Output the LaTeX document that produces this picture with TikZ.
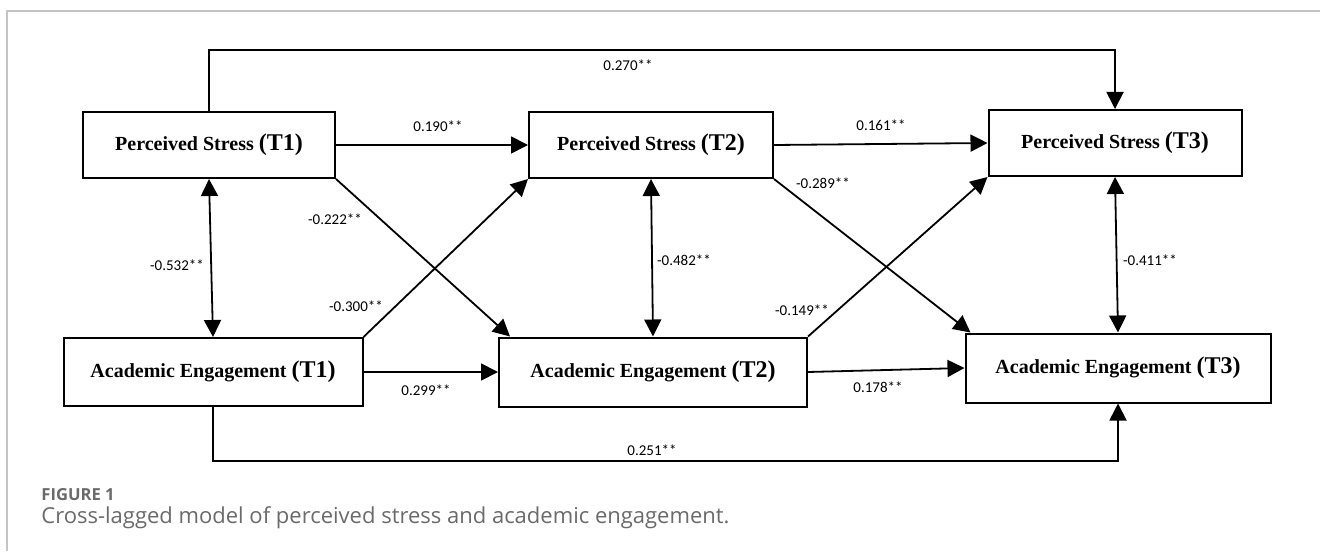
\documentclass[tikz,border=0pt]{standalone}
\usepackage{fontspec}
\setmainfont{Liberation Serif}
\newfontfamily\coeffont{Carlito}
\newfontfamily\capfont{Open Sans}
\usetikzlibrary{arrows.meta}
\definecolor{captiongray}{HTML}{6A6A6A}
\definecolor{framegray}{HTML}{C4C4C4}
\newcommand{\timept}[1]{{\fontsize{12}{12}\selectfont(#1)}}

\begin{document}
\begin{tikzpicture}[x=0.5pt, y=-0.5pt,
  varbox/.style={draw, line width=1pt, inner sep=0pt, minimum height=33pt,
    font=\fontsize{10}{12}\selectfont\bfseries},
  link/.style={line width=0.9pt, -{Triangle[length=8.5pt,width=8.5pt]}},
  corr/.style={line width=0.9pt, {Triangle[length=8.5pt,width=8.5pt]}-{Triangle[length=8.5pt,width=8.5pt]}},
  coef/.style={font=\coeffont\fontsize{7.5}{9}\selectfont, inner sep=0pt}]
\useasboundingbox (0,0) rectangle (1320,551);

% Frame
\draw[framegray, line width=0.6pt] (7,551) -- (7,11) -- (1320,11);

% Variables
\node[varbox, minimum width=126pt] (ps1) at (209,145) {Perceived Stress \timept{T1}};
\node[varbox, minimum width=122pt] (ps2) at (651,145) {Perceived Stress \timept{T2}};
\node[varbox, minimum width=126.5pt] (ps3) at (1115,143) {Perceived Stress \timept{T3}};
\node[varbox, minimum width=149.5pt, minimum height=34pt] (ae1) at (213,372) {Academic Engagement \timept{T1}};
\node[varbox, minimum width=154pt, minimum height=34.5pt] (ae2) at (653,372) {Academic Engagement \timept{T2}};
\node[varbox, minimum width=152.5pt, minimum height=34.5pt] (ae3) at (1118,368) {Academic Engagement \timept{T3}};

% Long paths
\coordinate (topline) at (0,50);
\coordinate (botline) at (0,461);
\draw[link] (ps1.north) -- (ps1.north |- topline) -| (ps3.north);
\draw[link] (ae1.south) -- (ae1.south |- botline) -| (ae3.south);

% Stability paths
\draw[link] (ps1.east) -- (ps2.west);
\draw[link] (ps2.east) -- (ps3.west);
\draw[link] (ae1.east) -- (ae2.west);
\draw[link] (ae2.east) -- (ae3.west);

% Cross-lagged paths
\draw[link] (ps1.south east) -- ([xshift=6pt]ae2.north west);
\draw[link] (ae1.north east) -- (ps2.south west);
\draw[link] (ps2.south east) -- ([xshift=3pt]ae3.north west);
\draw[link] (ae2.north east) -- (ps3.south west);

% Correlations
\draw[corr] (ps1.south) -- (ae1.north);
\draw[corr] (ps2.south) -- (ae2.north);
\draw[corr] (ps3.south) -- (ae3.north);

% Coefficients
\node[coef] (c270) at (628,65) {0.270**};
\node[coef] (c190) at (438,126) {0.190**};
\node[coef] (c161) at (881,125) {0.161**};
\node[coef] (c222) at (335,219) {-0.222**};
\node[coef] (c532) at (177,265) {-0.532**};
\node[coef] (c300) at (356,306) {-0.300**};
\node[coef] (c299) at (426,390) {0.299**};
\node[coef] (c482) at (684,260) {-0.482**};
\node[coef] (c289) at (823,183) {-0.289**};
\node[coef] (c149) at (802,310) {-0.149**};
\node[coef] (c178) at (878,387) {0.178**};
\node[coef] (c411) at (1150,260) {-0.411**};
\node[coef] (c251) at (652,450) {0.251**};

% Caption
\node[anchor=west, inner sep=0pt, text=captiongray, font=\capfont\fontsize{8.3}{10}\selectfont\bfseries] (figno) at (41,495) {FIGURE 1};
\node[anchor=west, inner sep=0pt, text=captiongray, font=\capfont\fontsize{11}{13}\selectfont] (caption) at (41,518) {Cross-lagged model of perceived stress and academic engagement.};
\end{tikzpicture}
\end{document}
